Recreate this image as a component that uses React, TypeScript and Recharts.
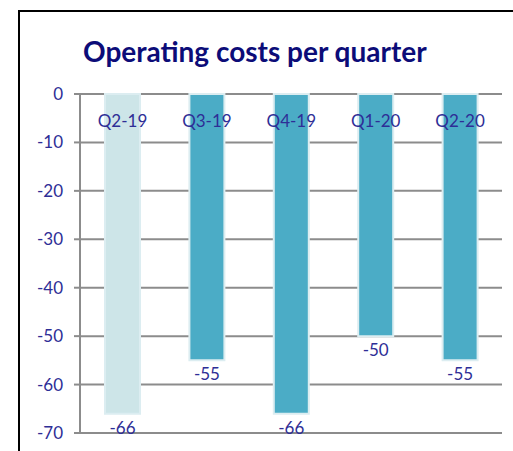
import React from "react";
import { BarChart, Bar, XAxis, YAxis, CartesianGrid, Cell, LabelList } from "recharts";

const categories = ["Q2-19", "Q3-19", "Q4-19", "Q1-20", "Q2-20"];
const values = [-66, -55, -66, -50, -55];
const yTicks = [0, -10, -20, -30, -40, -50, -60, -70];
const barColors = ["#cde5e8", "#4bacc6", "#4bacc6", "#4bacc6", "#4bacc6"];
const title = "Operating costs per quarter";

const data = categories.map((c, i) => ({ name: c, value: values[i], idx: i }));

const NAVY = "#2e2e96";
const GRID = "#8c8c8c";
const FONT = "Lato, 'Open Sans', sans-serif";

const CatLabel = (props: any) => {
  const { viewBox, value } = props;
  const top = Math.min(viewBox.y, viewBox.y + viewBox.height);
  const cx = viewBox.x + viewBox.width / 2;
  return (
    <text x={cx} y={top} dy={33} textAnchor="middle" fill={NAVY} fontSize={17} fontFamily={FONT}>
      {value}
    </text>
  );
};

const ValLabel = (props: any) => {
  const { viewBox, value } = props;
  const bottom = Math.max(viewBox.y, viewBox.y + viewBox.height);
  const cx = viewBox.x + viewBox.width / 2;
  return (
    <text x={cx} y={bottom} dy={20} textAnchor="middle" fill={NAVY} fontSize={17} fontFamily={FONT}>
      {value}
    </text>
  );
};

export default function App() {
  return (
    <div style={{ position: "absolute", left: 0, top: 0, width: 513, height: 451, background: "#fff", overflow: "hidden" }}>
      <div
        style={{
          position: "absolute",
          left: 18,
          top: 10,
          width: 520,
          height: 460,
          borderLeft: "2px solid #000",
          borderTop: "2px solid #000",
          boxSizing: "border-box",
        }}
      />
      <div
        style={{
          position: "absolute",
          left: 83,
          top: 35,
          fontFamily: FONT,
          fontWeight: 700,
          fontSize: 28,
          color: "#0c0c78",
          lineHeight: "32px",
          whiteSpace: "nowrap",
        }}
      >
        {title}
      </div>
      <div style={{ position: "absolute", left: 0, top: 0 }}>
        <BarChart
          width={513}
          height={451}
          data={data}
          margin={{ top: 94, right: 11, left: 0, bottom: 18 }}
          barSize={35}
        >
          <CartesianGrid horizontal vertical={false} stroke={GRID} strokeWidth={2} />
          <XAxis xAxisId="cat" dataKey="name" orientation="top" height={0} hide />
          <XAxis
            xAxisId="edge"
            type="number"
            domain={[0, 5]}
            ticks={[0, 1, 2, 3, 4, 5]}
            orientation="top"
            height={0}
            tick={false}
            tickSize={5}
            axisLine={{ stroke: GRID, strokeWidth: 2 }}
            tickLine={{ stroke: GRID, strokeWidth: 2 }}
            allowDataOverflow
          />
          <YAxis
            width={80}
            domain={[-70, 0]}
            ticks={yTicks}
            interval={0}
            tickSize={6}
            tickMargin={11}
            axisLine={{ stroke: GRID, strokeWidth: 2 }}
            tickLine={{ stroke: GRID, strokeWidth: 2 }}
            tick={{ fill: NAVY, fontSize: 17, fontFamily: FONT }}
          />
          <Bar dataKey="value" xAxisId="cat" isAnimationActive={false} stroke="#dcedf1" strokeWidth={2}>
            {data.map((d, i) => (
              <Cell key={d.name} fill={barColors[i]} />
            ))}
            <LabelList dataKey="name" content={<CatLabel />} />
            <LabelList dataKey="value" content={<ValLabel />} />
          </Bar>
        </BarChart>
      </div>
    </div>
  );
}
